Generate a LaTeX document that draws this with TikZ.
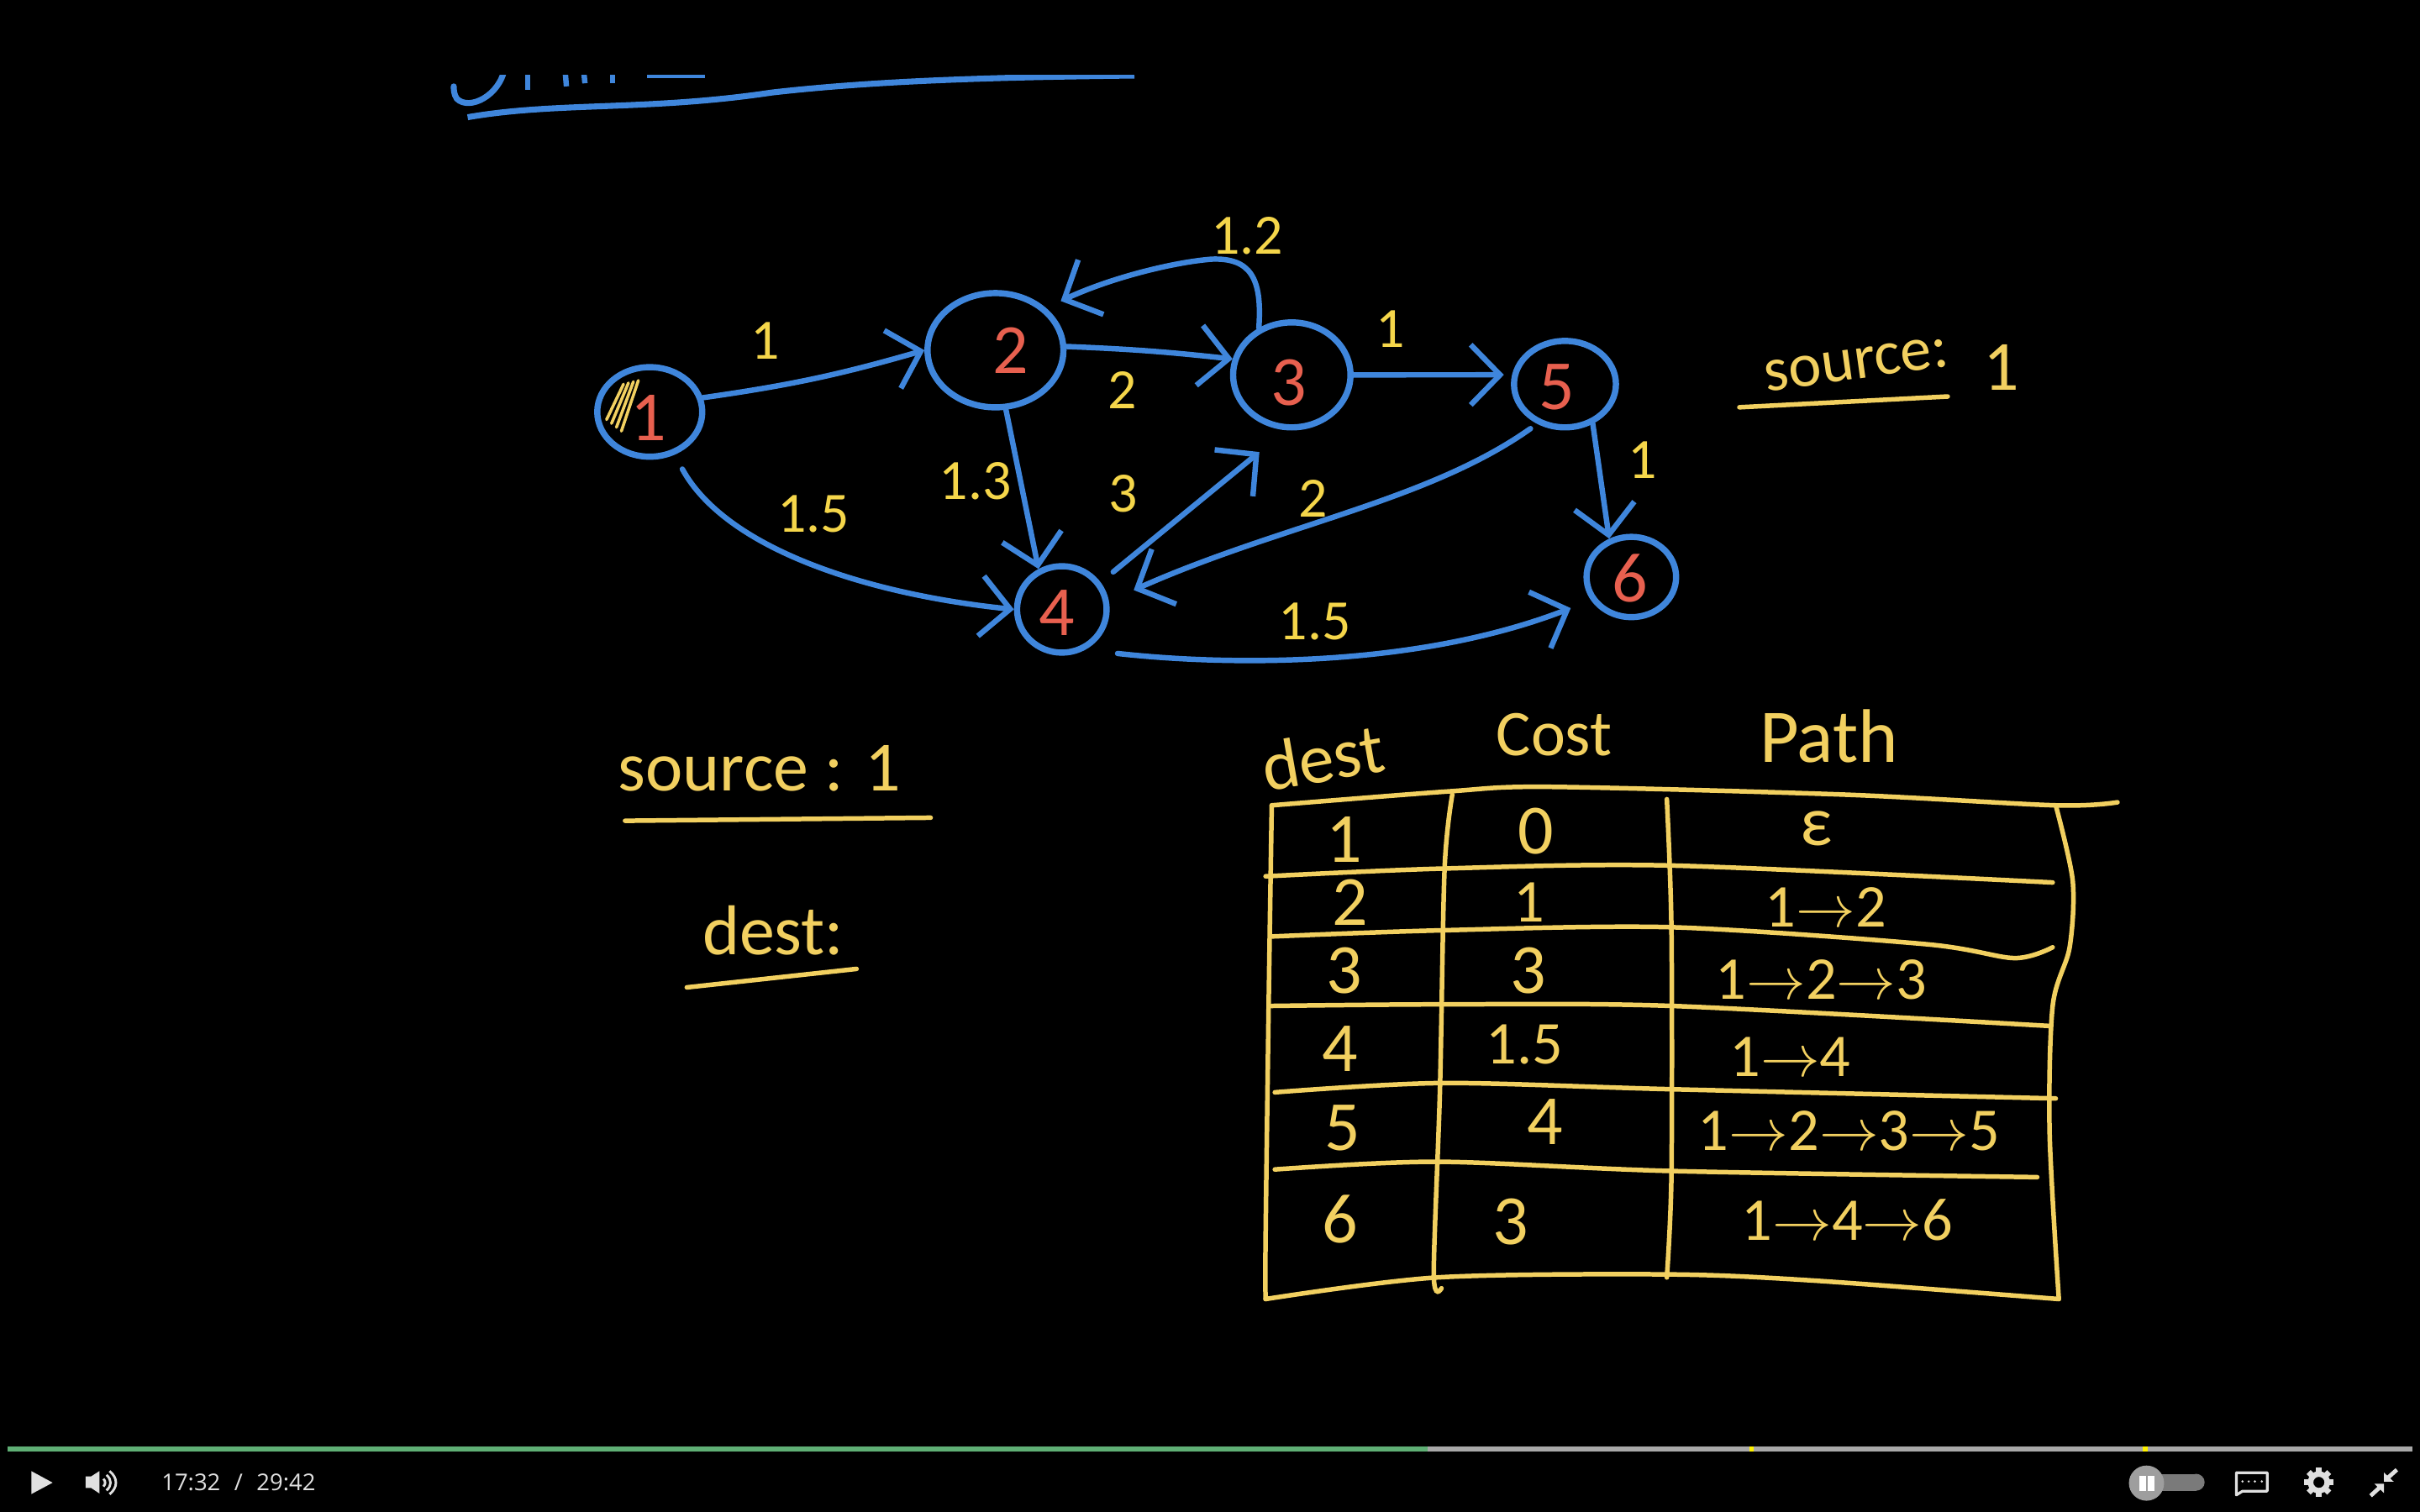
\documentclass[tikz,border=0pt]{standalone}
\usepackage{fontspec}
\setmainfont{Carlito}
\newfontfamily\uifont{Open Sans}
\usetikzlibrary{arrows.meta,shapes.geometric}
\definecolor{penblue}{HTML}{3F86DC}
\definecolor{penyellow}{HTML}{F2D060}
\definecolor{penlabel}{HTML}{F5D64A}
\definecolor{penred}{HTML}{E8604F}
\definecolor{barfill}{HTML}{5FAF75}
\definecolor{bargray}{HTML}{A8A8A8}
\definecolor{uigray}{HTML}{E0E0E0}
\tikzset{
    vertex/.style={ellipse,draw=penblue,line width=1.15pt,inner sep=0pt},
    vertexlabel/.style={text=penred,font=\fontsize{13}{13}\selectfont,inner sep=0pt},
    edgeline/.style={draw=penblue,line width=1pt,line cap=round,-{Straight Barb[length=1.9mm,width=3.9mm,line width=1pt]}},
    weight/.style={text=penlabel,font=\fontsize{10.5}{10.5}\selectfont,inner sep=0pt},
    cell/.style={text=penyellow,font=\fontsize{13}{13}\selectfont,inner sep=0pt},
    pathcell/.style={text=penyellow,font=\fontsize{11.2}{11.2}\selectfont,inner sep=0pt},
    tableline/.style={penyellow,line width=.85pt,line cap=round,smooth,tension=.5},
    note/.style={text=penyellow,font=\fontsize{13}{13}\selectfont,inner sep=0pt},
    noteline/.style={penyellow,line width=.85pt,line cap=round},
    uiicon/.style={fill=uigray,draw=none},
}
\begin{document}
\begin{tikzpicture}[x=.01cm,y=-.01cm]
    \fill[black] (0,0) rectangle (1568,980);
    \useasboundingbox (0,0) rectangle (1568,980);
    % heading cut off at the top
    \begin{scope}
        \clip (0,49) rectangle (1568,120);
        \draw[penblue,line width=1.1pt,line cap=round] (327,44) .. controls (324,62) and (304,72) .. (296,64) .. controls (294,61) and (294,58) .. (294,56);
        \draw[penblue,line width=1pt] (342,44)--(342,58);
        \draw[penblue,line width=1pt] (366,44)--(367,56);
        \draw[penblue,line width=1pt] (378,44)--(379,54);
        \draw[penblue,line width=1pt] (397,44)--(397,54);
        \draw[penblue,line width=2pt] (419,47)--(457,47);
        \draw[penblue,line width=1.1pt] (303,76) .. controls (360,66) and (420,72) .. (500,60) .. controls (570,52) and (650,50) .. (735,49);
    \end{scope}
    % vertices
    \node[vertex,minimum width=.68cm,minimum height=.58cm] (n1) at (421,267) {};
    \node[vertex,minimum width=.88cm,minimum height=.74cm] (n2) at (645,227) {};
    \node[vertex,minimum width=.76cm,minimum height=.68cm] (n3) at (837,243) {};
    \node[vertex,minimum width=.58cm,minimum height=.56cm] (n4) at (688,395) {};
    \node[vertex,minimum width=.66cm,minimum height=.56cm] (n5) at (1014,249) {};
    \node[vertex,minimum width=.58cm,minimum height=.52cm] (n6) at (1057,374) {};
    \node[vertexlabel] (t1) at (420,271) {1};
    \node[vertexlabel] (t2) at (655,227) {2};
    \node[vertexlabel] (t3) at (835,248) {3};
    \node[vertexlabel] (t4) at (685,397) {4};
    \node[vertexlabel] (t5) at (1009,251) {5};
    \node[vertexlabel] (t6) at (1056,375) {6};
    % scribble over the source
    \foreach \i in {0,1,2,3}
        \draw[penyellow,line width=.55pt,line cap=round] (393+\i*3.2,272+\i*2.5)--(404+\i*3.2,249-\i*.8);
    % edges
    \coordinate (tip43) at (816,293);
    \draw[edgeline] (n1.15) to[bend right=4] (n2.180);
    \draw[edgeline] (n2.3) to[bend left=2] (n3.165);
    \draw[edgeline,shorten >=3pt] (n3.125) .. controls (818,180) and (810,167) .. (785,168) .. controls (760,170) and (720,180) .. (n2.40);
    \draw[edgeline,shorten >=1.5pt] (n3.0) -- (n5.170);
    \draw[edgeline] (n2.-80) -- (n4.120);
    \draw[edgeline,shorten <=3pt] (n1.-60) .. controls (470,355) and (560,385) .. (n4.180);
    \draw[edgeline,shorten <=3pt] (n4.35) -- (tip43);
    \draw[edgeline,shorten <=1.5pt,shorten >=5pt] (n5.-125) .. controls (925,325) and (830,340) .. (n4.10);
    \draw[edgeline] (n5.-55) -- (n6.120);
    \draw[edgeline,shorten <=6pt,shorten >=4pt] (n4.-60) .. controls (800,432) and (920,432) .. (n6.-150);
    % edge weights
    \node[weight] (w12) at (496,221) {1};
    \node[weight] (w23) at (727,253) {2};
    \node[weight] (w32) at (808,153) {1.2};
    \node[weight] (w35) at (901,213) {1};
    \node[weight] (w24) at (632,312) {1.3};
    \node[weight] (w43) at (728,320) {3};
    \node[weight] (w14) at (527,333) {1.5};
    \node[weight] (w54) at (851,323) {2};
    \node[weight] (w56) at (1064,298) {1};
    \node[weight] (w46) at (852,403) {1.5};
    % notes
    \node[note,rotate=8,font=\fontsize{11.5}{11.5}\selectfont] (src1) at (1203,236) {source:};
    \node[note] (src1v) at (1297,238) {1};
    \draw[noteline] (1127,264)--(1262,257);
    \node[note] (src2) at (492,498) {source : 1};
    \draw[noteline] (405,532)--(603,530);
    \node[note] (dest) at (501,603) {dest:};
    \draw[noteline] (445,640)--(500,634)--(555,628);
    % table
    \draw[tableline] plot coordinates {(824,522) (938,513) (1003,510) (1194,515) (1332,522) (1372,520)};
    \draw[tableline] plot coordinates {(820,568) (934,563) (1083,561) (1330,572)};
    \draw[tableline] plot coordinates {(824,607) (934,603) (1083,601) (1248,612) (1305,621) (1330,614)};
    \draw[tableline] plot coordinates {(824,652) (934,651) (1083,652) (1328,665)};
    \draw[tableline] plot coordinates {(826,708) (934,702) (1083,706) (1332,712)};
    \draw[tableline] plot coordinates {(826,758) (931,753) (1083,759) (1320,763)};
    \draw[tableline] plot coordinates {(820,842) (931,828) (1080,826) (1175,830) (1334,842)};
    \draw[tableline] plot coordinates {(824,522) (822,652) (820,804) (820,842)};
    \draw[tableline] plot coordinates {(941,515) (936,563) (933,706) (929,826) (934,835)};
    \draw[tableline] plot coordinates {(1080,518) (1083,603) (1083,761) (1080,828)};
    \draw[tableline] plot coordinates {(1332,522) (1343,571) (1341,614) (1330,652) (1328,734) (1334,842)};
    \node[note,rotate=10] (hdest) at (857,491) {dest};
    \node[note,font=\fontsize{12}{12}\selectfont] (hcost) at (1007,476) {Cost};
    \node[note,font=\fontsize{14}{14}\selectfont] (hpath) at (1185,477) {Path};
    \node[cell] (d1) at (871,544) {1};
    \node[cell] (d2) at (875,585) {2};
    \node[cell] (d3) at (871,629) {3};
    \node[cell] (d4) at (868,680) {4};
    \node[cell] (d5) at (870,731) {5};
    \node[cell] (d6) at (868,790) {6};
    \node[cell] (c1) at (995,539) {0};
    \node[pathcell] (c2) at (991,585) {1};
    \node[cell] (c3) at (990,629) {3};
    \node[pathcell] (c4) at (988,677) {1.5};
    \node[cell] (c5) at (1001,727) {4};
    \node[cell] (c6) at (979,792) {3};
    \node[cell] (p1) at (1177,537) {ε};
    \node[pathcell] (p2) at (1183,588) {1$\to$2};
    \node[pathcell] (p3) at (1180,635) {1$\to$2$\to$3};
    \node[pathcell] (p4) at (1160,685) {1$\to$4};
    \node[pathcell] (p5) at (1198,733) {1$\to$2$\to$3$\to$5};
    \node[pathcell] (p6) at (1197,791) {1$\to$4$\to$6};
    % player bar
    \fill[bargray] (5,937.5) rectangle (1563,940.7);
    \fill[barfill] (5,937.5) rectangle (925,940.7);
    \fill[yellow] (1133.5,937.5) rectangle (1136.5,940.7);
    \fill[yellow] (1388.5,937.5) rectangle (1391.5,940.7);
    \fill[uiicon] (20.3,953.5)--(34.1,961)--(20.3,968.4)--cycle;
    \fill[uiicon] (55.4,957)--(59,957)--(64.4,953.5)--(64.4,968)--(59,964.4)--(55.4,964.4)--cycle;
    \draw[uigray,line width=.45pt] (67,958.5) .. controls (68.5,960) and (68.5,962) .. (67,963.5);
    \draw[uigray,line width=.45pt] (69,956) .. controls (72.5,959) and (72.5,963) .. (69,966);
    \draw[uigray,line width=.45pt] (71,953.5) .. controls (76.5,958) and (76.5,964) .. (71,968.5);
    \node[text=uigray,font=\uifont\fontsize{4.25}{4.25}\selectfont,inner sep=0pt,anchor=west] (clock) at (104,961) {17:32\hspace{.6em}/\hspace{.6em}29:42};
    \fill[black!52] (1391,955.3) rectangle (1423,966.2);
    \fill[black!52] (1423,960.75) circle (.0545cm);
    \fill[black!38] (1390.8,961.3) circle (.114cm);
    \fill[white] (1386.3,956.6) rectangle (1390.3,966.6);
    \fill[white] (1391.8,956.6) rectangle (1395.8,966.6);
    \draw[uigray,line width=.5pt,line join=round] (1449,954.5)--(1469,954.5)--(1469,966.5)--(1453,966.5)--(1449,969)--cycle;
    \foreach \i in {1453,1457,1461,1465.5}
        \fill[uigray] (\i,960.2) circle (.008cm);
    \fill[uigray,even odd rule] (1502.5,960.8) circle (.072cm) (1502.5,960.8) circle (.036cm);
    \foreach \a in {0,45,...,315}
        \draw[uigray,line width=1.05pt] (1502.5,960.8)++(\a:.06cm)--++(\a:.034cm);
    \fill[uiicon] (1544.6,960.4)--(1544.6,954.4)--(1551,960.4)--cycle;
    \draw[uigray,line width=.75pt] (1547,958)--(1553,952.6);
    \fill[uiicon] (1544.6,961.7)--(1538.4,961.7)--(1544.6,967.7)--cycle;
    \draw[uigray,line width=.75pt] (1542,964)--(1536,969.5);
\end{tikzpicture}
\end{document}
